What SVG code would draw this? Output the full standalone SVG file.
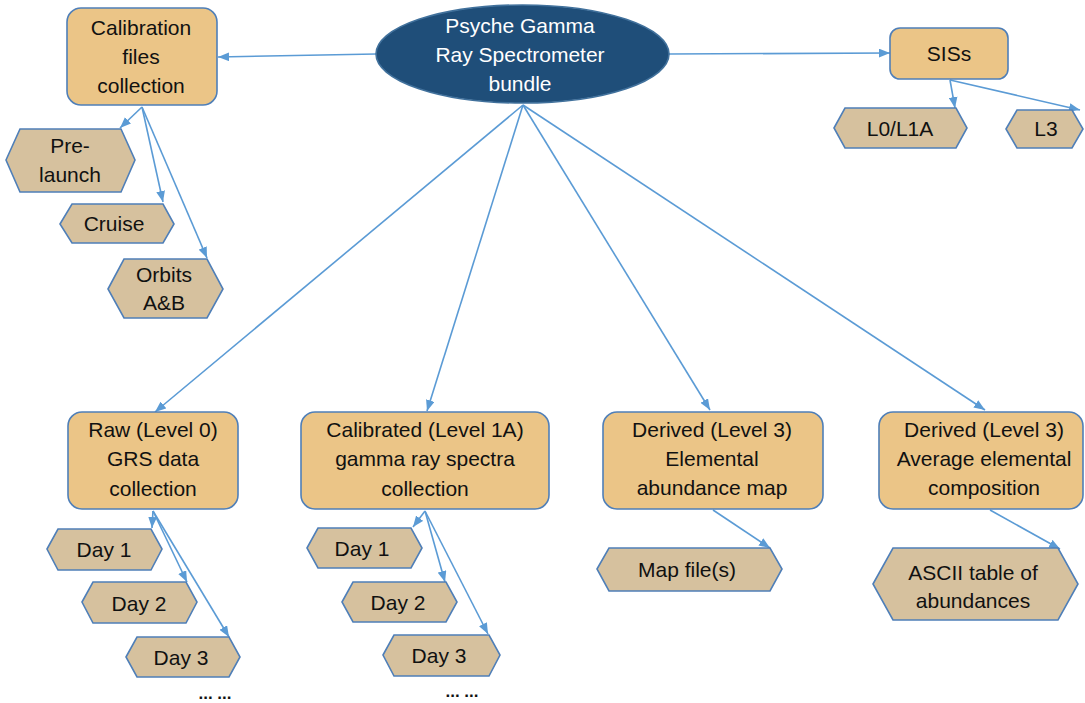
<svg xmlns="http://www.w3.org/2000/svg" width="1085" height="703" viewBox="0 0 1085 703">
<defs>
<marker id="ah" viewBox="0 0 10 8" refX="10" refY="4" markerWidth="11" markerHeight="9" markerUnits="userSpaceOnUse" orient="auto">
<path d="M0,0 L10,4 L0,8 z" fill="#5B9BD5"/>
</marker>
<style>
.box{fill:#EBC587;stroke:#4F7FB8;stroke-width:1.6}
.hex{fill:#D6C19E;stroke:#4F7FB8;stroke-width:1.6}
.t{font-family:"Liberation Sans",Arial,sans-serif;font-size:21px;fill:#111111;text-anchor:middle}
.tw{font-family:"Liberation Sans",Arial,sans-serif;font-size:21px;fill:#ffffff;text-anchor:middle}
.dots{font-family:"Liberation Sans",Arial,sans-serif;font-size:17px;fill:#111111;text-anchor:middle;font-weight:bold}
.c{stroke:#5B9BD5;stroke-width:1.6;fill:none;marker-end:url(#ah)}
</style>
</defs>
<rect width="1085" height="703" fill="#ffffff"/>
<g id="connectors">
<line class="c" x1="376" y1="54" x2="218" y2="57"/>
<line class="c" x1="669" y1="54" x2="890" y2="53"/>
<line class="c" x1="950" y1="80" x2="955" y2="108"/>
<line class="c" x1="950" y1="80" x2="1080" y2="110"/>
<line class="c" x1="142" y1="107" x2="120" y2="128"/>
<line class="c" x1="142" y1="107" x2="163" y2="202"/>
<line class="c" x1="142" y1="107" x2="207" y2="258"/>
<line class="c" x1="523" y1="105" x2="155" y2="412"/>
<line class="c" x1="523" y1="105" x2="427" y2="411"/>
<line class="c" x1="523" y1="105" x2="710" y2="410"/>
<line class="c" x1="523" y1="105" x2="985" y2="410"/>
<line class="c" x1="153" y1="511" x2="152" y2="528"/>
<line class="c" x1="153" y1="511" x2="187" y2="582"/>
<line class="c" x1="153" y1="511" x2="229" y2="637"/>
<line class="c" x1="425" y1="511" x2="413" y2="527"/>
<line class="c" x1="425" y1="511" x2="445" y2="582"/>
<line class="c" x1="425" y1="511" x2="488" y2="634"/>
<line class="c" x1="713" y1="510" x2="770" y2="548"/>
<line class="c" x1="990" y1="510" x2="1060" y2="549"/>
</g>
<g id="bundle">
<ellipse cx="522.5" cy="54" rx="146.5" ry="49" fill="#1F4E79" stroke="#41719C" stroke-width="1.6"/>
<text class="tw" x="520" y="33">Psyche Gamma</text>
<text class="tw" x="520" y="62">Ray Spectrometer</text>
<text class="tw" x="520" y="91">bundle</text>
</g>
<g id="calibration">
<rect class="box" x="67" y="8" width="150" height="97" rx="14"/>
<text class="t" x="141" y="35">Calibration</text>
<text class="t" x="141" y="64">files</text>
<text class="t" x="141" y="93">collection</text>
</g>
<g id="prelaunch">
<polygon class="hex" points="6,160 20,129 121,129 135,160 121,192 20,192"/>
<text class="t" x="70" y="153">Pre-</text>
<text class="t" x="70" y="182">launch</text>
</g>
<g id="cruise">
<polygon class="hex" points="60,224 72,204 163,204 174,224 163,243 72,243"/>
<text class="t" x="114" y="231">Cruise</text>
</g>
<g id="orbits">
<polygon class="hex" points="108,289 124,259 207,259 223,289 207,318 124,318"/>
<text class="t" x="164" y="282">Orbits</text>
<text class="t" x="164" y="310">A&amp;B</text>
</g>
<g id="siss">
<rect class="box" x="890" y="28" width="118" height="51" rx="10"/>
<text class="t" x="949" y="61">SISs</text>
</g>
<g id="l0l1a">
<polygon class="hex" points="834,128 845,108 956,108 967,128 956,148 845,148"/>
<text class="t" x="900" y="136">L0/L1A</text>
</g>
<g id="l3">
<polygon class="hex" points="1006,129 1017,110 1072,110 1083,129 1072,148 1017,148"/>
<text class="t" x="1046" y="136">L3</text>
</g>
<g id="raw">
<rect class="box" x="68" y="412" width="170" height="97" rx="14"/>
<text class="t" x="153" y="437">Raw (Level 0)</text>
<text class="t" x="153" y="466">GRS data</text>
<text class="t" x="153" y="496">collection</text>
</g>
<g id="raw-day1">
<polygon class="hex" points="47,549 58,529 151,529 162,549 151,570 58,570"/>
<text class="t" x="104" y="557">Day 1</text>
</g>
<g id="raw-day2">
<polygon class="hex" points="82,602 93,582 186,582 197,602 186,623 93,623"/>
<text class="t" x="139" y="611">Day 2</text>
</g>
<g id="raw-day3">
<polygon class="hex" points="126,657 137,637 229,637 240,657 229,677 137,677"/>
<text class="t" x="181" y="665">Day 3</text>
</g>
<text class="dots" x="215" y="699">... ...</text>
<g id="calibrated">
<rect class="box" x="301" y="412" width="248" height="97" rx="14"/>
<text class="t" x="425" y="437">Calibrated (Level 1A)</text>
<text class="t" x="425" y="466">gamma ray spectra</text>
<text class="t" x="425" y="496">collection</text>
</g>
<g id="cal-day1">
<polygon class="hex" points="307,548 318,528 411,528 422,548 411,568 318,568"/>
<text class="t" x="362" y="556">Day 1</text>
</g>
<g id="cal-day2">
<polygon class="hex" points="342,602 353,582 446,582 457,602 446,622 353,622"/>
<text class="t" x="398" y="610">Day 2</text>
</g>
<g id="cal-day3">
<polygon class="hex" points="383,655 394,635 489,635 500,655 489,676 394,676"/>
<text class="t" x="439" y="663">Day 3</text>
</g>
<text class="dots" x="462" y="697">... ...</text>
<g id="derived-map">
<rect class="box" x="603" y="412" width="220" height="97" rx="14"/>
<text class="t" x="712" y="437">Derived (Level 3)</text>
<text class="t" x="712" y="466">Elemental</text>
<text class="t" x="712" y="495">abundance map</text>
</g>
<g id="mapfile">
<polygon class="hex" points="597,569 609,548 770,548 782,569 770,591 609,591"/>
<text class="t" x="687" y="577">Map file(s)</text>
</g>
<g id="derived-avg">
<rect class="box" x="879" y="412" width="204" height="97" rx="14"/>
<text class="t" x="984" y="437">Derived (Level 3)</text>
<text class="t" x="984" y="466">Average elemental</text>
<text class="t" x="984" y="495">composition</text>
</g>
<g id="ascii">
<polygon class="hex" points="873,584 893,548 1058,548 1078,584 1058,620 893,620"/>
<text class="t" x="973" y="580">ASCII table of</text>
<text class="t" x="973" y="608">abundances</text>
</g>
</svg>
